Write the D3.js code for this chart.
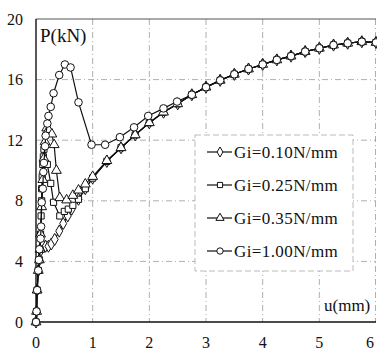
<!DOCTYPE html>
<html>
<head>
<meta charset="utf-8">
<script src="https://cdn.jsdelivr.net/npm/d3@7"></script>
<style>
  body { margin: 0; background: #fff; }
  text { font-family: "Liberation Serif", "Times New Roman", serif; fill: #111; }
</style>
</head>
<body>
<div id="chart"></div>
<script>
const width = 377;
const height = 352;

// tick labels
const xTicks = [0, 1, 2, 3, 4, 5, 6];
const yTicks = [0, 4, 8, 12, 16, 20];

// Gi = 0.10 N/mm (diamonds)
const gi010U = [0, 0.01, 0.02, 0.04, 0.06, 0.08, 0.12, 0.17, 0.22, 0.27, 0.33, 0.41, 0.48, 0.56, 0.63, 0.75, 0.87, 1.0, 1.25, 1.5, 1.75, 2.0, 2.25, 2.5];
const gi010P = [0, 0.7, 2.1, 3.4, 4.1, 4.7, 5.1, 5.0, 5.0, 5.15, 5.45, 6.0, 6.5, 7.0, 7.45, 8.1, 8.8, 9.5, 10.6, 11.5, 12.35, 13.15, 13.85, 14.4];

// Gi = 0.25 N/mm (squares)
const gi025U = [0, 0.01, 0.02, 0.04, 0.06, 0.07, 0.08, 0.09, 0.1, 0.1, 0.11, 0.12, 0.13, 0.14, 0.2, 0.26, 0.31, 0.42, 0.5, 0.57, 0.65, 0.75, 0.87, 1.0, 1.25, 1.5, 1.75, 2.0, 2.25, 2.5];
const gi025P = [0, 0.7, 2.1, 3.4, 4.1, 4.8, 5.8, 7.0, 8.0, 8.8, 9.6, 10.4, 10.9, 11.4, 10.4, 9.15, 7.9, 7.0, 7.3, 7.45, 7.7, 8.1, 8.8, 9.5, 10.6, 11.5, 12.35, 13.15, 13.85, 14.4];

// Gi = 0.35 N/mm (triangles)
const gi035U = [0, 0.01, 0.02, 0.04, 0.06, 0.07, 0.08, 0.1, 0.12, 0.14, 0.16, 0.19, 0.22, 0.28, 0.32, 0.36, 0.42, 0.54, 0.65, 0.75, 0.87, 1.0, 1.25, 1.5, 1.75, 2.0, 2.25, 2.5];
const gi035P = [0, 0.7, 2.1, 3.4, 4.1, 4.8, 5.8, 7.6, 9.4, 10.8, 11.9, 12.8, 12.7, 12.4, 11.7, 10.0, 8.2, 8.05, 8.35, 8.7, 9.1, 9.6, 10.65, 11.5, 12.35, 13.15, 13.85, 14.4];

// Gi = 1.00 N/mm (circles)
const gi100U = [0, 0.01, 0.02, 0.04, 0.05, 0.06, 0.08, 0.09, 0.1, 0.12, 0.13, 0.14, 0.16, 0.17, 0.2, 0.22, 0.26, 0.31, 0.41, 0.51, 0.61, 0.75, 0.98, 1.22, 1.48, 1.73, 1.98, 2.25, 2.49];
const gi100P = [0, 0.7, 2.1, 3.4, 4.1, 4.8, 5.5, 6.3, 7.9, 8.8, 9.9, 10.5, 11.6, 12.3, 13.1, 13.6, 14.2, 15.1, 16.3, 17.0, 16.8, 14.5, 11.7, 11.7, 12.2, 12.85, 13.6, 14.1, 14.55];

// shared hardening tail (all four curves lie on top of each other here)
const tailU = [2.75, 3.0, 3.25, 3.5, 3.75, 4.0, 4.25, 4.5, 4.75, 5.0, 5.25, 5.5, 5.75, 6.0];
const tailP = [15.0, 15.5, 15.95, 16.35, 16.7, 17.0, 17.3, 17.55, 17.85, 18.07, 18.28, 18.4, 18.5, 18.45];

const labels = ["Gi=0.10N/mm", "Gi=0.25N/mm", "Gi=0.35N/mm", "Gi=1.00N/mm"];
const markers = ["diamond", "square", "triangle", "circle"];

function toPoints(us, ps) {
  const pts = us.map((u, i) => ({u: u, p: ps[i]}));
  return pts.concat(tailU.map((u, i) => ({u: u, p: tailP[i]})));
}

const series = [
  toPoints(gi010U, gi010P),
  toPoints(gi025U, gi025P),
  toPoints(gi035U, gi035P),
  toPoints(gi100U, gi100P)
];

const x = d3.scaleLinear().domain([0, 6]).range([36, 376]);
const y = d3.scaleLinear().domain([0, 20]).range([322, 19]);

const svg = d3.select("#chart").append("svg")
  .attr("width", width)
  .attr("height", height);

// grid
const grid = svg.append("g")
  .attr("stroke", "#9a9a9a")
  .attr("stroke-width", 0.8)
  .attr("stroke-dasharray", "6,3,1,3");
grid.selectAll("line.v")
  .data(xTicks.slice(1, -1))
  .enter().append("line")
    .attr("class", "v")
    .attr("x1", d => x(d)).attr("x2", d => x(d))
    .attr("y1", y(20)).attr("y2", y(0));
grid.selectAll("line.h")
  .data(yTicks.slice(1, -1))
  .enter().append("line")
    .attr("class", "h")
    .attr("x1", x(0)).attr("x2", x(6))
    .attr("y1", d => y(d)).attr("y2", d => y(d));
// right border
grid.append("line")
  .attr("x1", x(6) - 0.5).attr("x2", x(6) - 0.5)
  .attr("y1", y(20)).attr("y2", y(0));

// top border
svg.append("line")
  .attr("x1", x(0)).attr("x2", x(6))
  .attr("y1", y(20)).attr("y2", y(20))
  .attr("stroke", "#555").attr("stroke-width", 1.2);

// axes
svg.append("line")
  .attr("x1", x(0)).attr("x2", x(0))
  .attr("y1", y(20)).attr("y2", y(0))
  .attr("stroke", "#111").attr("stroke-width", 1.4);
svg.append("line")
  .attr("x1", x(0)).attr("x2", x(6))
  .attr("y1", y(0)).attr("y2", y(0))
  .attr("stroke", "#111").attr("stroke-width", 1.4);

svg.append("g").selectAll("text")
  .data(yTicks)
  .enter().append("text")
    .attr("x", 23)
    .attr("y", d => y(d) + 5.5)
    .attr("text-anchor", "end")
    .attr("font-size", 16)
    .text(d => d);

svg.append("g").selectAll("text")
  .data(xTicks)
  .enter().append("text")
    .attr("x", d => Math.min(x(d), 370))
    .attr("y", 348)
    .attr("text-anchor", "middle")
    .attr("font-size", 16)
    .text(d => d);

svg.append("text")
  .attr("x", 40).attr("y", 42)
  .attr("font-size", 19)
  .text("P(kN)");
svg.append("text")
  .attr("x", 324).attr("y", 311)
  .attr("font-size", 17)
  .text("u(mm)");

// marker drawing
function drawMarker(sel, kind, small) {
  const k = small ? 0.7 : 1;
  if (kind === "circle") {
    sel.append("circle").attr("r", 3.8 * Math.sqrt(k));
  } else {
    const sym = kind === "diamond" ? d3.symbolDiamond : kind === "square" ? d3.symbolSquare : d3.symbolTriangle;
    const size = kind === "diamond" ? 42 : kind === "square" ? 38 : 42;
    sel.append("path").attr("d", d3.symbol().type(sym).size(size * k)());
  }
}

const line = d3.line().x(d => x(d.u)).y(d => y(d.p));

series.forEach((pts, i) => {
  const g = svg.append("g");
  g.append("path")
    .datum(pts)
    .attr("d", line)
    .attr("fill", "none")
    .attr("stroke", "#111")
    .attr("stroke-width", 1.2);
  const m = g.selectAll("g.m")
    .data(pts)
    .enter().append("g")
      .attr("class", "m")
      .attr("transform", d => `translate(${x(d.u)},${y(d.p)})`)
      .attr("fill", "#fff")
      .attr("stroke", "#111")
      .attr("stroke-width", 1);
  drawMarker(m, markers[i], false);
});

// legend
const legend = svg.append("g");
legend.append("rect")
  .attr("x", 195).attr("y", 135)
  .attr("width", 158).attr("height", 136)
  .attr("fill", "#fff")
  .attr("stroke", "#aaa")
  .attr("stroke-width", 0.8)
  .attr("stroke-dasharray", "6,3");

const rows = legend.selectAll("g.row")
  .data(labels)
  .enter().append("g")
    .attr("class", "row")
    .attr("transform", (d, i) => `translate(0,${152 + i * 33})`);
rows.append("line")
  .attr("x1", 207).attr("x2", 232)
  .attr("stroke", "#111").attr("stroke-width", 1.2);
rows.each(function(d, i) {
  const mk = d3.select(this).append("g")
    .attr("transform", "translate(220,0)")
    .attr("fill", "#fff")
    .attr("stroke", "#111")
    .attr("stroke-width", 1);
  drawMarker(mk, markers[i], true);
});
rows.append("text")
  .attr("x", 234).attr("y", 6)
  .attr("font-size", 17)
  .attr("letter-spacing", 0.4)
  .text(d => d);
</script>
</body>
</html>
